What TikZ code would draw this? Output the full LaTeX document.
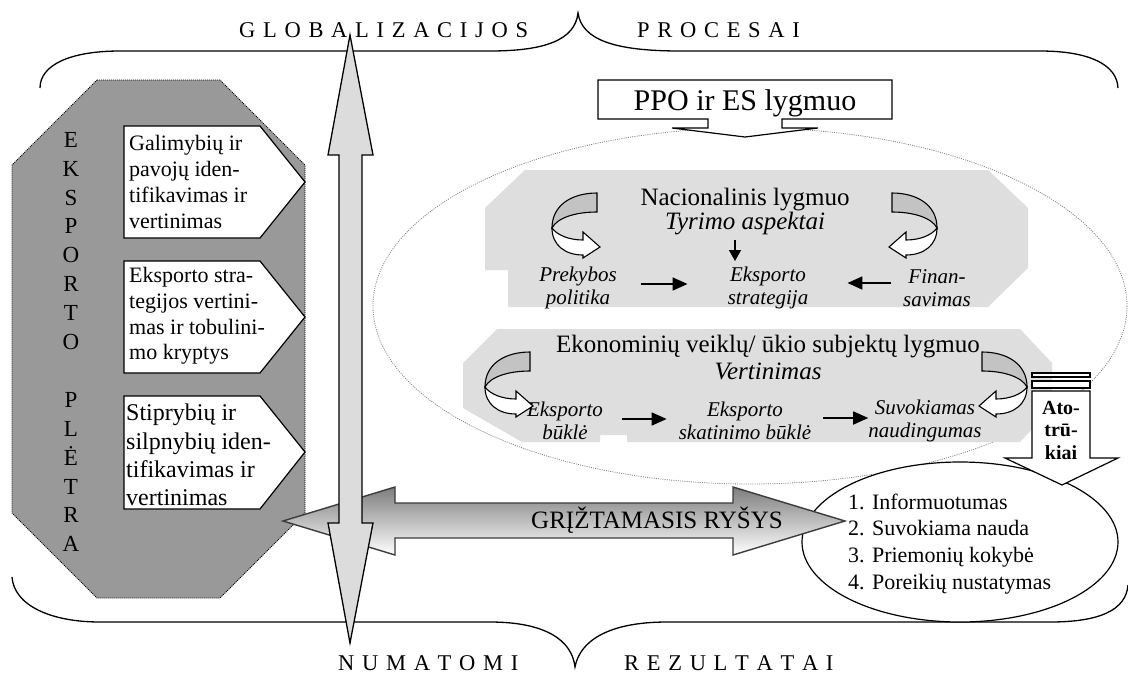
\documentclass[tikz,border=0pt]{standalone}
\usepackage{fontspec}
\setmainfont{Liberation Serif}
\usetikzlibrary{arrows.meta}
\definecolor{octgray}{RGB}{153,153,153}
\definecolor{boxgray}{RGB}{222,222,222}
\definecolor{arrgray}{RGB}{220,220,220}
\definecolor{bandgray}{RGB}{195,195,195}
\definecolor{fbedge}{RGB}{60,60,60}
\definecolor{fbtop}{RGB}{125,125,125}
\definecolor{dotgray}{RGB}{130,130,130}
\newcommand\sptext[1]{\spaux#1\relax}
\def\spaux#1{\ifx\relax#1\else#1\kern7.7pt\expandafter\spaux\fi}
\tikzset{
  outl/.style={draw=black, line width=1.2pt},
  blkarr/.style={line width=1.7pt, -{Triangle[length=15pt,width=13pt]}},
  blkdown/.style={line width=1.5pt, -{Triangle[length=11pt,width=12pt]}},
  sptxt/.style={inner sep=0pt, font=\fontsize{22.5}{25}\selectfont},
  bigtxt/.style={inner sep=0pt, font=\fontsize{25}{28}\selectfont},
  bigit/.style={inner sep=0pt, font=\fontsize{25}{28}\selectfont\itshape},
  ittxt/.style={inner sep=0pt, align=center, font=\fontsize{21}{23}\selectfont\itshape},
  pentxt/.style={inner sep=0pt, align=left, anchor=west, font=\fontsize{22}{25.8}\selectfont},
  restxt/.style={inner sep=0pt, anchor=base west, font=\fontsize{22}{26}\selectfont},
  curvarr/.pic={
    \filldraw[fill=bandgray, line width=1.1pt] (0,0) .. controls (-25,0) and (-45,12) .. (-45,35)
      .. controls (-40,25) and (-22,19) .. (0,19) -- cycle;
    \filldraw[fill=white, line width=1.1pt] (-45,35) .. controls (-45,52) and (-32,62) .. (-14,62)
      -- (-14,65) -- (3,54) -- (-14,39) -- (-14,47) .. controls (-28,47) and (-40,42) .. (-45,35) -- cycle;
  }
}
\begin{document}
\begin{tikzpicture}[x=1pt,y=-1pt, line join=miter]
\useasboundingbox (0,0) rectangle (1128,673);
\fill[white] (0,0) rectangle (1128,673);

% dotted big ellipse
\draw[dotgray, line width=0.8pt, dash pattern=on 1pt off 1.2pt] (750,306) ellipse [x radius=377, y radius=178];

% braces
\draw[line width=1.3pt] (40,88) .. controls (40,65) and (70,51) .. (120,51) -- (490,51)
  .. controls (545,51) and (575,40) .. (578,13) .. controls (582,40) and (615,51) .. (680,51)
  -- (1040,51) .. controls (1090,51) and (1117,65) .. (1118,88);
\draw[line width=1.3pt] (12,577) .. controls (14,605) and (50,622) .. (100,622) -- (490,622)
  .. controls (545,622) and (572,640) .. (575,667) .. controls (580,640) and (610,622) .. (667,622)
  -- (1050,622) .. controls (1100,622) and (1126,610) .. (1128,585);

\node[sptxt, anchor=base west] (glob) at (239,37) {\sptext{GLOBALIZACIJOS}};
\node[sptxt, anchor=base west] (proc) at (637,37) {\sptext{PROCESAI}};
\node[sptxt, anchor=base west] (num) at (338,670) {\sptext{NUMATOMI}};
\node[sptxt, anchor=base west] (rez) at (624,670) {\sptext{REZULTATAI}};

% left octagon
\filldraw[fill=octgray, draw=black, line width=0.8pt, dash pattern=on 1pt off 1pt]
  (97,80) -- (220,80) -- (305,165) -- (305,513) -- (220,598) -- (97,598) -- (12,513) -- (12,165) -- cycle;
\node[inner sep=0pt, align=center, font=\fontsize{23}{28.9}\selectfont] (eksp) at (71,342)
  {E\\K\\S\\P\\O\\R\\T\\O\\\mbox{}\\P\\L\\Ė\\T\\R\\A};

% pentagon boxes
\filldraw[fill=white, outl] (124,126) -- (260,126) -- (305,182) -- (260,238) -- (124,238) -- cycle;
\filldraw[fill=white, outl] (124,261) -- (260,261) -- (305,317) -- (260,373) -- (124,373) -- cycle;
\filldraw[fill=white, outl] (124,396) -- (260,396) -- (305,452) -- (260,509) -- (124,509) -- cycle;
\node[pentxt] (p1) at (129,182) {Galimybių ir\\pavojų iden-\\tifikavimas ir\\vertinimas};
\node[pentxt] (p2) at (129,316) {Eksporto stra-\\tegijos vertini-\\mas ir tobulini-\\mo kryptys};
\node[pentxt, font=\fontsize{24}{28.3}\selectfont] (p3) at (126,455) {Stiprybių ir\\silpnybių iden-\\tifikavimas ir\\vertinimas};

% PPO callout
\filldraw[fill=white, line width=1.2pt] (598,80) -- (892,80) -- (892,119) -- (782,119) -- (782,128)
  -- (818,128) -- (745,137) -- (672,128) -- (708,128) -- (708,119) -- (598,119) -- cycle;
\node[inner sep=0pt, anchor=base, font=\fontsize{30}{32}\selectfont] (ppo) at (745,110) {PPO ir ES lygmuo};

% national level box
\fill[boxgray] (525,170) -- (988,170) -- (1028,208) -- (1028,268) -- (988,307) -- (508,307)
  -- (508,270) -- (485,270) -- (485,208) -- cycle;
\node[bigtxt, anchor=base] (nac) at (745,205) {Nacionalinis lygmuo};
\node[bigit, anchor=base] (tyr) at (745,229) {Tyrimo aspektai};
\node[ittxt] (prek) at (578,288) {Prekybos\\politika};
\node[ittxt] (eksA) at (768,288) {Eksporto\\strategija};
\node[ittxt] (fin) at (937,288) {Finan-\\savimas};
\pic at (597,193) {curvarr};
\pic[xscale=-1] at (892,193) {curvarr};
\coordinate (dA) at (735,240);
\draw[blkdown] (dA) -- (dA |- 0,261);
\draw[blkarr, shorten <=24pt, shorten >=40pt] ([yshift=4pt]prek.east) -- ([yshift=4pt]eksA.west);
\draw[blkarr, shorten <=12pt, shorten >=39pt] ([yshift=5pt]fin.west) -- ([yshift=5pt]eksA.east);

% enterprise level box
\fill[boxgray] (497,329) -- (1020,329) -- (1052,363) -- (1052,408) -- (1020,442) -- (627,442)
  -- (627,435) -- (600,435) -- (600,442) -- (522,442) -- (463,408) -- (463,363) -- cycle;
\node[bigtxt, anchor=base] (ekon) at (768,352) {Ekonominių veiklų/ ūkio subjektų lygmuo};
\node[bigit, anchor=base] (vert) at (768,379) {Vertinimas};
\node[ittxt] (eb1) at (565,421) {Eksporto\\būklė};
\node[ittxt] (eb2) at (745,421) {Eksporto\\skatinimo būklė};
\node[ittxt] (suv) at (925,421) {Suvokiamas\\naudingumas};
\pic at (530,352) {curvarr};
\pic[xscale=-1] at (982,352) {curvarr};
\draw[blkarr, shorten <=19pt, shorten >=12pt] ([yshift=2pt]eb1.east) -- ([yshift=2pt]eb2.west);
\draw[blkarr, shorten <=12pt, shorten >=0pt] ([yshift=3pt]eb2.east) -- ([yshift=3pt]suv.west);

% results ellipse
\filldraw[fill=white, line width=1.2pt] (960,542) ellipse [x radius=158, y radius=80];
\node[restxt] (r1) at (848,509) {1. Informuotumas};
\node[restxt] (r2) at (848,535.5) {2. Suvokiama nauda};
\node[restxt] (r3) at (848,562) {3. Priemonių kokybė};
\node[restxt] (r4) at (848,589) {4. Poreikių nustatymas};

% gaps arrow
\filldraw[fill=white, line width=1.2pt] (1032,373) rectangle (1090,377);
\filldraw[fill=white, line width=1.2pt] (1032,381) rectangle (1090,388);
\filldraw[fill=white, line width=1.2pt] (1032,391) -- (1090,391) -- (1090,458) -- (1118,458)
  -- (1062,485) -- (1005,458) -- (1032,458) -- cycle;
\node[inner sep=0pt, align=center, font=\fontsize{20}{22.5}\selectfont\bfseries] (ato) at (1061,430) {Ato-\\trū-\\kiai};

% feedback arrow
\path[draw=fbedge, line width=1.4pt, top color=fbtop, bottom color=white]
  (283,521) -- (395,487) -- (395,503) -- (733,503) -- (733,487) -- (845,521) -- (733,555)
  -- (733,538) -- (395,538) -- (395,555) -- cycle;
\node[bigtxt, anchor=base] (fb) at (657,528) {GRĮŽTAMASIS RYŠYS};

% vertical double arrow
\filldraw[fill=arrgray, line width=1.3pt] (350,35) -- (373,155) -- (362,155) -- (362,523) -- (373,523)
  -- (350,643) -- (328,523) -- (339,523) -- (339,155) -- (328,155) -- cycle;
\end{tikzpicture}
\end{document}
